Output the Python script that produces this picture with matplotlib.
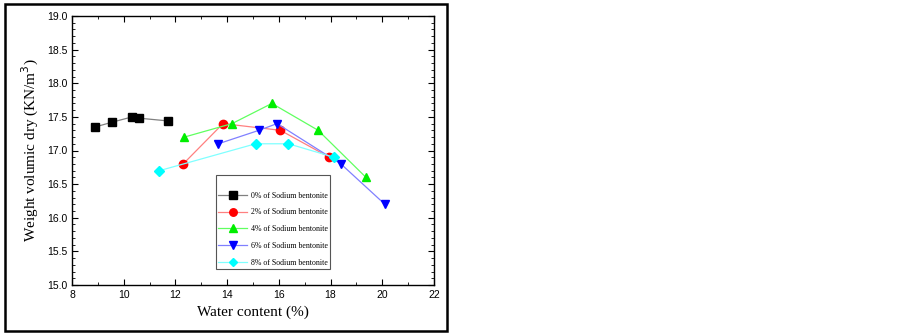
import matplotlib
matplotlib.use("Agg")
import matplotlib.pyplot as plt
from matplotlib.patches import Rectangle
from matplotlib.ticker import MultipleLocator

# water content (%) and dry unit weight (KN/m3) per sodium bentonite content
w0 = [8.9, 9.54, 10.33, 10.61, 11.71]
g0 = [17.35, 17.42, 17.50, 17.48, 17.44]
w2 = [12.3, 13.84, 16.06, 17.95]
g2 = [16.8, 17.4, 17.3, 16.9]
w4 = [12.35, 14.19, 15.73, 17.52, 19.37]
g4 = [17.2, 17.4, 17.7, 17.3, 16.6]
w6 = [13.66, 15.23, 15.93, 18.4, 20.1]
g6 = [17.1, 17.3, 17.4, 16.8, 16.2]
w8 = [11.38, 15.1, 16.37, 18.13]
g8 = [16.7, 17.1, 17.1, 16.9]

labels = ["0% of Sodium bentonite", "2% of Sodium bentonite",
          "4% of Sodium bentonite", "6% of Sodium bentonite",
          "8% of Sodium bentonite"]

W, H = 902, 334
fig = plt.figure(figsize=(W / 100, H / 100), dpi=100)
ax = fig.add_axes([72 / W, 1 - 285 / H, (434 - 72) / W, (285 - 16) / H])

series = [
    (w0, g0, "s", "black", "#808080"),
    (w2, g2, "o", "red", "#ff8080"),
    (w4, g4, "^", "#00ee00", "#60ff60"),
    (w6, g6, "v", "blue", "#8080ff"),
    (w8, g8, "D", "cyan", "#80ffff"),
]
for (x, y, m, mc, lc), lab in zip(series, labels):
    ax.plot(x, y, color=lc, lw=0.9, marker=m, markersize=6 if m != "D" else 5,
            markerfacecolor=mc, markeredgecolor=mc, label=lab)

ax.set_xlim(8, 22)
ax.set_ylim(15, 19)
ax.xaxis.set_major_locator(MultipleLocator(2))
ax.xaxis.set_minor_locator(MultipleLocator(1))
ax.yaxis.set_major_locator(MultipleLocator(0.5))
ax.yaxis.set_minor_locator(MultipleLocator(0.1))
ax.yaxis.set_major_formatter(matplotlib.ticker.FormatStrFormatter("%.1f"))
ax.tick_params(which="both", direction="in", top=True, right=True,
               labelsize=7.5)
ax.tick_params(which="major", length=4, width=0.8)
ax.tick_params(which="minor", length=2, width=0.6)
for lab in ax.get_xticklabels() + ax.get_yticklabels():
    lab.set_fontfamily("Liberation Sans")
for sp in ax.spines.values():
    sp.set_linewidth(1.0)

ax.set_xlabel("Water content (%)", fontfamily="Liberation Serif", fontsize=11)
ax.set_ylabel("Weight volumic dry (KN/m$^3$)", fontfamily="Liberation Serif",
              fontsize=11)

leg = ax.legend(loc="lower left", bbox_to_anchor=(0.387, 0.045, 0.337, 0.35),
                mode="expand", prop={"family": "Liberation Serif", "size": 5.7},
                fancybox=False, edgecolor="#555555", framealpha=1,
                handlelength=3.6, handletextpad=0.5, borderpad=0.3,
                labelspacing=1.1, markerscale=0.9,
                title=" ", title_fontsize=5)
leg.get_frame().set_linewidth(0.8)

fig.patches.append(Rectangle((5 / W, 1 - 331 / H), (447 - 5) / W, (331 - 4) / H,
                             transform=fig.transFigure, fill=False,
                             edgecolor="black", linewidth=1.8))

fig.savefig("out.png", dpi=100)
